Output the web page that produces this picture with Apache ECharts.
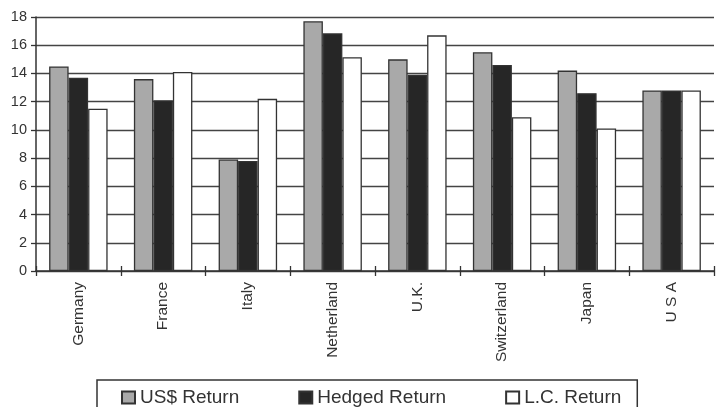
<!DOCTYPE html>
<html>
<head>
<meta charset="utf-8">
<script src="https://cdn.jsdelivr.net/npm/echarts@6/dist/echarts.min.js"></script>
<style>
  html, body { margin: 0; padding: 0; background: #fff; }
  #chart { width: 717px; height: 407px; }
</style>
</head>
<body>
<div id="chart"></div>
<script>
// Country returns, three return measures per country
const countries = ['Germany', 'France', 'Italy', 'Netherland', 'U.K.', 'Switzerland', 'Japan', 'U S A'];
const usdReturn = [14.5, 13.6, 7.9, 17.7, 15.0, 15.5, 14.2, 12.8];
const hedgedReturn = [13.7, 12.1, 7.8, 16.85, 13.9, 14.6, 12.6, 12.8];
const lcReturn = [11.5, 14.1, 12.2, 15.15, 16.7, 10.9, 10.1, 12.8];
const seriesNames = ['US$ Return', 'Hedged Return', 'L.C. Return'];

const FONT = '"Liberation Sans", Arial, sans-serif';
const INK = '#333';

const chart = echarts.init(document.getElementById('chart'), null, { renderer: 'canvas' });

function barSeries(name, data, fill) {
  return {
    name: name,
    type: 'bar',
    xAxisIndex: 0,
    data: data,
    barGap: '0%',
    barCategoryGap: '31%',
    itemStyle: { color: fill, borderColor: INK, borderWidth: 1.3 },
    emphasis: { disabled: true },
    animation: false
  };
}

chart.setOption({
  backgroundColor: '#fff',
  animation: false,
  grid: { left: 36, right: 3, top: 17, bottom: 136, containLabel: false },
  legend: {
    data: seriesNames,
    icon: 'rect',
    left: 97,
    top: 380,
    padding: [8, 16, 30, 24],
    itemGap: 59,
    itemWidth: 13,
    itemHeight: 12,
    borderColor: INK,
    borderWidth: 1.5,
    textStyle: { fontFamily: FONT, fontSize: 19, color: INK },
    selectedMode: false
  },
  xAxis: [
    {
      type: 'category',
      data: countries,
      axisLine: { lineStyle: { color: INK, width: 1.5 } },
      axisTick: { show: true, length: 5, lineStyle: { color: INK, width: 1.3 } },
      axisLabel: {
        rotate: 90,
        margin: 11,
        fontFamily: FONT,
        fontSize: 15.5,
        color: INK
      },
      splitLine: { show: false }
    },
    {
      // inner half of the category ticks, so they cross the baseline
      type: 'category',
      data: countries,
      position: 'bottom',
      axisLine: { show: false },
      axisTick: { show: true, inside: true, length: 5, lineStyle: { color: INK, width: 1.3 } },
      axisLabel: { show: false },
      splitLine: { show: false }
    }
  ],
  yAxis: {
    type: 'value',
    min: 0,
    max: 18,
    interval: 2,
    axisLine: { show: true, lineStyle: { color: INK, width: 1.5 } },
    axisTick: { show: true, length: 5, lineStyle: { color: INK, width: 1.3 } },
    axisLabel: { fontFamily: FONT, fontSize: 14.5, color: INK, margin: 9 },
    splitLine: { show: true, lineStyle: { color: '#444', width: 1.3 } }
  },
  series: [
    barSeries(seriesNames[0], usdReturn, '#a9a9a9'),
    barSeries(seriesNames[1], hedgedReturn, '#262626'),
    barSeries(seriesNames[2], lcReturn, '#ffffff')
  ]
});
</script>
</body>
</html>
